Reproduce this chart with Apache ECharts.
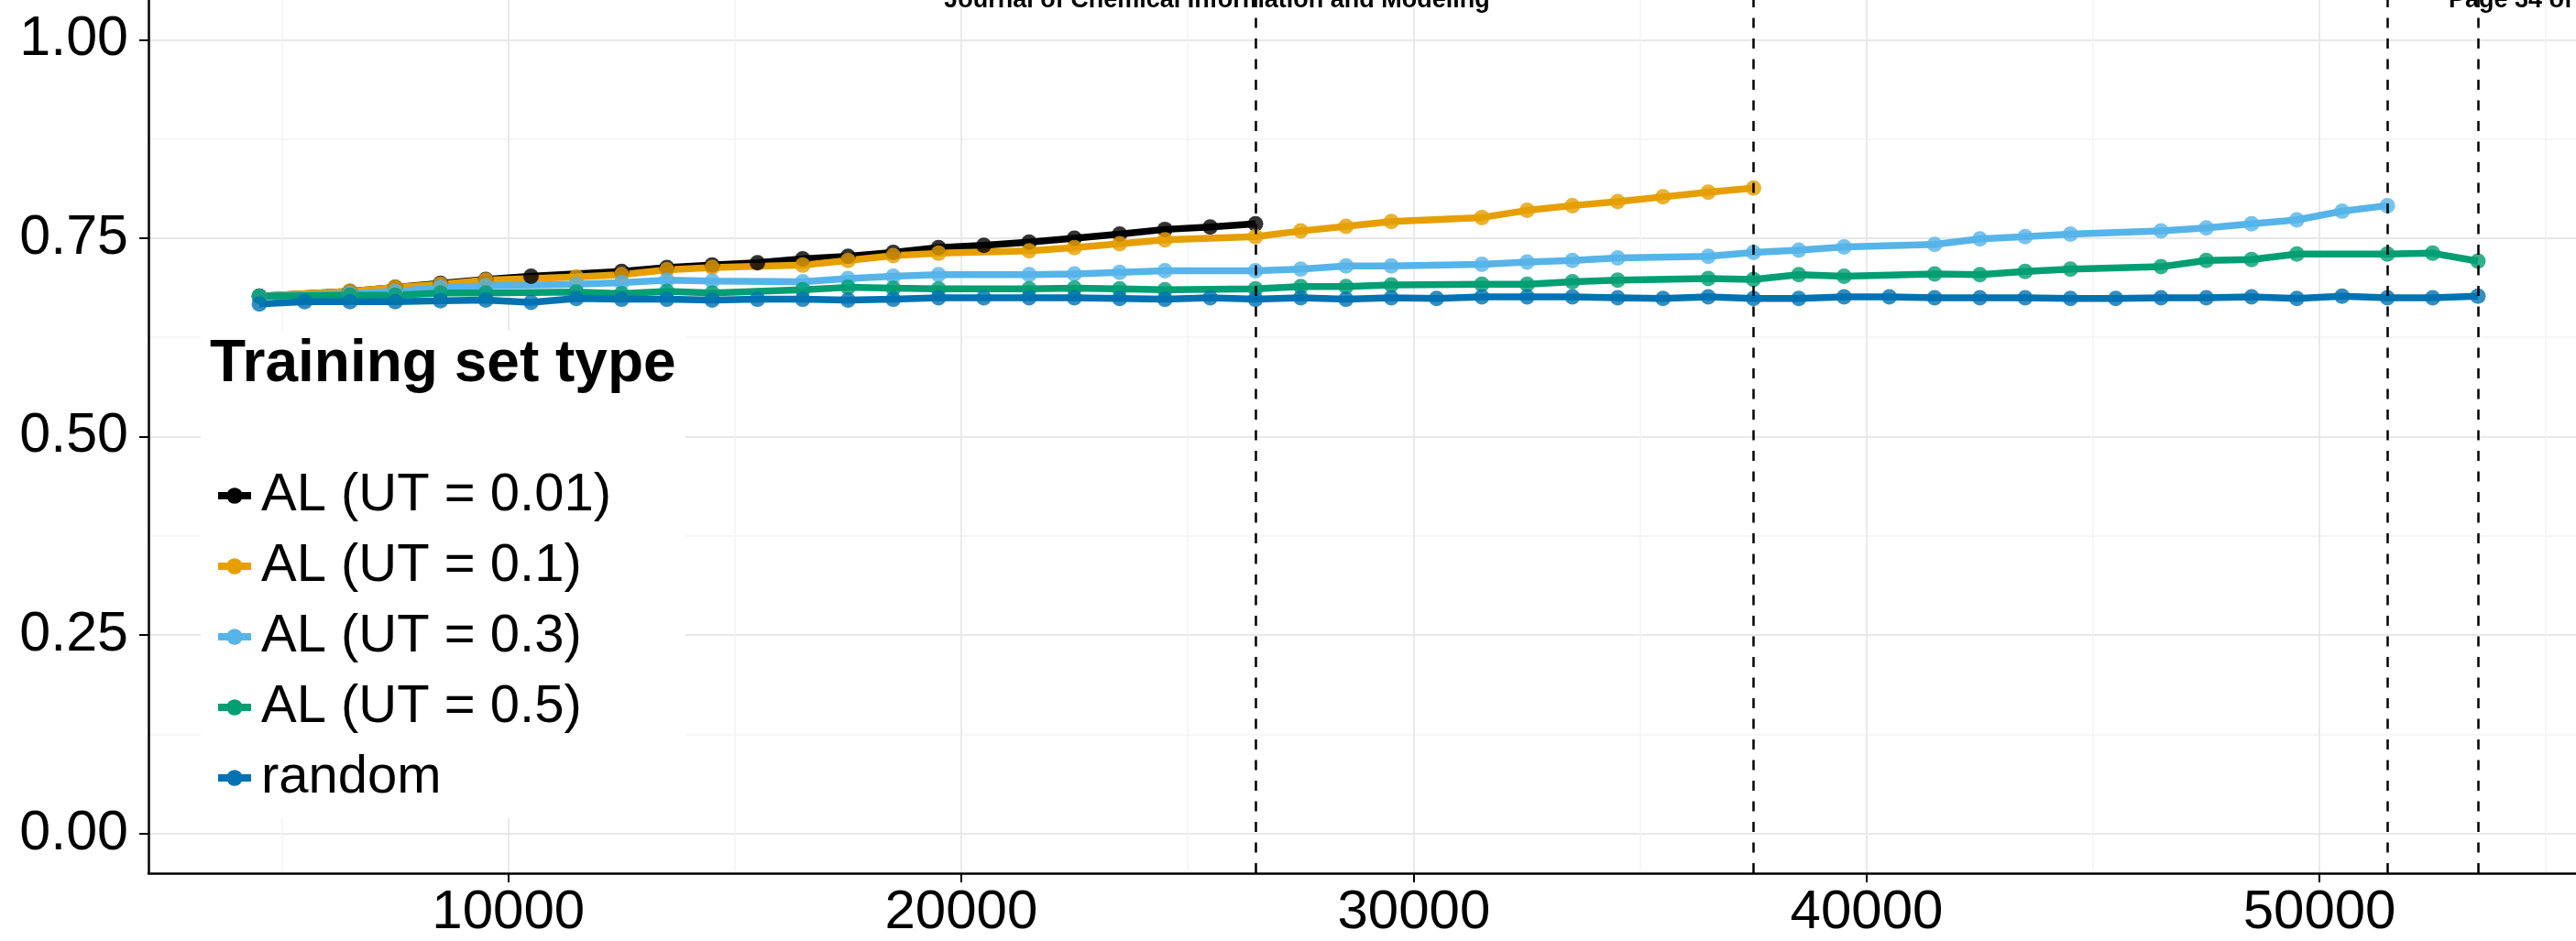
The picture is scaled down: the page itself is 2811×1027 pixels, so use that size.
<!DOCTYPE html>
<html>
<head>
<meta charset="utf-8">
<script src="https://cdn.jsdelivr.net/npm/echarts@6/dist/echarts.min.js"></script>
<style>
  html, body { margin: 0; padding: 0; background: #ffffff; }
  #chart { width: 2811px; height: 1027px; }
</style>
</head>
<body>
<div id="chart"></div>
<script>
// Training set size (x) and score (y) for each training-set type
const seriesNames = ['AL (UT = 0.01)', 'AL (UT = 0.1)', 'AL (UT = 0.3)', 'AL (UT = 0.5)', 'random'];
const seriesColors = ['#000000', '#E69F00', '#56B4E9', '#009E73', '#0072B2'];

const alUT001X = [4500, 6500, 7500, 8500, 9500, 10500, 12500, 13500, 14500, 15500, 16500, 17500, 18500, 19500, 20500, 21500, 22500, 23500, 24500, 25500, 26500];
const alUT001Y = [0.677, 0.683, 0.688, 0.693, 0.698, 0.702, 0.708, 0.713, 0.716, 0.719, 0.724, 0.727, 0.732, 0.738, 0.741, 0.745, 0.750, 0.755, 0.761, 0.764, 0.768];

const alUT01X = [4500, 6500, 7500, 8500, 9500, 11500, 12500, 13500, 14500, 16500, 17500, 18500, 19500, 21500, 22500, 23500, 24500, 26500, 27500, 28500, 29500, 31500, 32500, 33500, 34500, 35500, 36500, 37500];
const alUT01Y = [0.677, 0.683, 0.688, 0.692, 0.697, 0.701, 0.704, 0.710, 0.713, 0.716, 0.722, 0.728, 0.731, 0.734, 0.738, 0.743, 0.748, 0.752, 0.759, 0.765, 0.771, 0.776, 0.785, 0.791, 0.796, 0.802, 0.808, 0.813];

const alUT03X = [4500, 6500, 7500, 8500, 9500, 11500, 12500, 13500, 14500, 16500, 17500, 18500, 19500, 21500, 22500, 23500, 24500, 26500, 27500, 28500, 29500, 31500, 32500, 33500, 34500, 36500, 37500, 38500, 39500, 41500, 42500, 43500, 44500, 46500, 47500, 48500, 49500, 50500, 51500];
const alUT03Y = [0.677, 0.680, 0.683, 0.688, 0.690, 0.692, 0.694, 0.697, 0.696, 0.695, 0.699, 0.702, 0.704, 0.704, 0.705, 0.707, 0.709, 0.709, 0.711, 0.715, 0.715, 0.717, 0.720, 0.722, 0.725, 0.727, 0.732, 0.735, 0.739, 0.742, 0.749, 0.752, 0.755, 0.759, 0.763, 0.768, 0.773, 0.784, 0.791];

const alUT05X = [4500, 6500, 7500, 8500, 9500, 11500, 12500, 13500, 14500, 16500, 17500, 18500, 19500, 21500, 22500, 23500, 24500, 26500, 27500, 28500, 29500, 31500, 32500, 33500, 34500, 36500, 37500, 38500, 39500, 41500, 42500, 43500, 44500, 46500, 47500, 48500, 49500, 51500, 52500, 53500];
const alUT05Y = [0.677, 0.678, 0.678, 0.681, 0.681, 0.682, 0.680, 0.683, 0.681, 0.685, 0.688, 0.687, 0.686, 0.686, 0.687, 0.686, 0.685, 0.686, 0.689, 0.689, 0.691, 0.692, 0.692, 0.695, 0.697, 0.699, 0.698, 0.704, 0.702, 0.705, 0.704, 0.708, 0.711, 0.714, 0.722, 0.723, 0.730, 0.730, 0.731, 0.721];

const randomX = [4500, 5500, 6500, 7500, 8500, 9500, 10500, 11500, 12500, 13500, 14500, 15500, 16500, 17500, 18500, 19500, 20500, 21500, 22500, 23500, 24500, 25500, 26500, 27500, 28500, 29500, 30500, 31500, 32500, 33500, 34500, 35500, 36500, 37500, 38500, 39500, 40500, 41500, 42500, 43500, 44500, 45500, 46500, 47500, 48500, 49500, 50500, 51500, 52500, 53500];
const randomY = [0.667, 0.670, 0.670, 0.670, 0.671, 0.672, 0.669, 0.674, 0.673, 0.673, 0.672, 0.673, 0.673, 0.672, 0.673, 0.675, 0.675, 0.675, 0.675, 0.674, 0.673, 0.675, 0.673, 0.675, 0.673, 0.675, 0.674, 0.676, 0.676, 0.676, 0.675, 0.674, 0.676, 0.674, 0.674, 0.676, 0.676, 0.675, 0.675, 0.675, 0.674, 0.674, 0.675, 0.675, 0.676, 0.674, 0.677, 0.675, 0.675, 0.677];

const seriesX = [alUT001X, alUT01X, alUT03X, alUT05X, randomX];
const seriesY = [alUT001Y, alUT01Y, alUT03Y, alUT05Y, randomY];

// Axis ticks
const yTicks = [0, 0.25, 0.5, 0.75, 1];
const yMinorTicks = [0.125, 0.375, 0.625, 0.875];
const xTicks = [10000, 20000, 30000, 40000, 50000];
const xMinorTicks = [5000, 15000, 25000, 35000, 45000, 55000];

const FONT = '"Liberation Sans", "Helvetica", Arial, sans-serif';
const majorGrid = { show: true, lineStyle: { color: '#e8e8e8', width: 1.8 } };
const minorGrid = { show: true, lineStyle: { color: '#f3f3f3', width: 1.5 } };
const X_MIN = 2050;
const X_MAX = 55666;

function pairs(xs, ys) {
  return xs.map((x, i) => [x, ys[i]]);
}

const series = [];
// all lines first
seriesNames.forEach((name, i) => {
  series.push({
    type: 'line',
    name: name,
    data: pairs(seriesX[i], seriesY[i]),
    symbol: 'circle',
    showSymbol: false,
    silent: true,
    z: 2,
    lineStyle: { color: seriesColors[i], width: 7.5 },
    itemStyle: { color: seriesColors[i] },
    emphasis: { disabled: true }
  });
});
// then the points on top
seriesNames.forEach((name, i) => {
  series.push({
    type: 'scatter',
    name: name,
    data: pairs(seriesX[i], seriesY[i]),
    symbol: 'circle',
    symbolSize: 17,
    silent: true,
    z: 3,
    itemStyle: { color: seriesColors[i], opacity: 0.8 },
    emphasis: { disabled: true }
  });
});
// dashed line at the largest training set of each type
const lastSizes = Array.from(new Set(seriesX.map(xs => xs[xs.length - 1])));
series.push({
  type: 'line',
  name: 'final size',
  data: [],
  silent: true,
  z: 4,
  markLine: {
    silent: true,
    symbol: ['none', 'none'],
    label: { show: false },
    lineStyle: { color: '#000000', width: 2.5, type: [11, 11.5], opacity: 1 },
    emphasis: { disabled: true },
    data: lastSizes.map(v => ({ xAxis: v }))
  }
});

const chart = echarts.init(document.getElementById('chart'), null, { renderer: 'canvas', width: 2811, height: 1027 });

chart.setOption({
  animation: false,
  backgroundColor: '#ffffff',
  grid: { left: 162, right: 0, top: -4, bottom: 74, containLabel: false },
  xAxis: [
    {
      type: 'value',
      min: X_MIN,
      max: X_MAX,
      position: 'bottom',
      axisLine: { show: true, onZero: false, lineStyle: { color: '#000000', width: 2.5 } },
      axisTick: { show: true, length: 10, customValues: xTicks, lineStyle: { color: '#000000', width: 2 } },
      axisLabel: { show: true, customValues: xTicks, margin: 13, color: '#000000', fontSize: 60, fontFamily: FONT, formatter: v => String(v) },
      splitLine: majorGrid
    },
    {
      type: 'value',
      min: X_MIN,
      max: X_MAX,
      position: 'top',
      axisLine: { show: false },
      axisTick: { show: false, customValues: xMinorTicks },
      axisLabel: { show: false },
      splitLine: minorGrid
    }
  ],
  yAxis: [
    {
      type: 'value',
      min: -0.05,
      max: 1.05,
      position: 'left',
      axisLine: { show: true, onZero: false, lineStyle: { color: '#000000', width: 2.5 } },
      axisTick: { show: true, length: 10, customValues: yTicks, lineStyle: { color: '#000000', width: 2 } },
      axisLabel: { show: true, customValues: yTicks, margin: 22, color: '#000000', fontSize: 61, fontFamily: FONT, formatter: v => v.toFixed(2) },
      splitLine: majorGrid
    },
    {
      type: 'value',
      min: -0.05,
      max: 1.05,
      position: 'right',
      axisLine: { show: false },
      axisTick: { show: false, customValues: yMinorTicks },
      axisLabel: { show: false },
      splitLine: minorGrid
    }
  ],
  legend: {
    data: seriesNames,
    orient: 'vertical',
    left: 234,
    top: 512,
    padding: 0,
    itemWidth: 36,
    itemHeight: 22,
    itemGap: 19,
    selectedMode: false,
    lineStyle: { width: 8 },
    textStyle: { color: '#000000', fontSize: 58, lineHeight: 58, fontFamily: FONT, padding: [0, 0, 0, 6] }
  },
  graphic: [
    {
      type: 'rect',
      z: 1,
      silent: true,
      shape: { x: 219, y: 361, width: 529, height: 532 },
      style: { fill: '#ffffff' }
    },
    {
      type: 'text',
      z: 10,
      silent: true,
      style: { x: 229, y: 398, text: 'Training set type', font: 'bold 64px ' + FONT, fill: '#000000', textAlign: 'left', textVerticalAlign: 'middle' }
    },
    {
      type: 'text',
      z: 10,
      silent: true,
      style: { x: 1328, y: 0.3, text: 'Journal of Chemical Information and Modeling', font: 'bold 27px ' + FONT, fill: '#000000', textAlign: 'center', textVerticalAlign: 'middle' }
    },
    {
      type: 'text',
      z: 10,
      silent: true,
      style: { x: 2672, y: 0.3, text: 'Page 34 of', font: 'bold 27px ' + FONT, fill: '#000000', textAlign: 'left', textVerticalAlign: 'middle' }
    }
  ],
  series: series
});
</script>
</body>
</html>
